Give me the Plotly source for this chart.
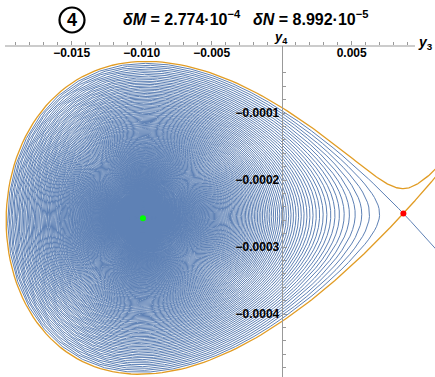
import numpy as np
import plotly.graph_objects as go

# ---- values (axis units y3, y4) ----
CENTER = [-0.00991, -0.000257]      # green fixed point (focus)
SADDLE = [0.00869, -0.000250]       # red fixed point (saddle)
LOOP_HALF_HEIGHT = 0.000232         # half height of the separatrix loop (y4)
LOOP_LEFT_WARP = -0.03              # the loop reaches a little further left than a pure cubic well
DAMPING = 0.0035                    # from the gap between the orange branches at the saddle

X_TICKS = [-0.015, -0.010, -0.005, 0.005]
X_TICK_LABELS = ["\u22120.015", "\u22120.010", "\u22120.005", "0.005"]
Y_TICKS = [-0.0001, -0.0002, -0.0003, -0.0004]
Y_TICK_LABELS = ["\u22120.0001", "\u22120.0002", "\u22120.0003", "\u22120.0004"]
DELTA_M = "2.774\u00b710<sup>\u22124</sup>"
DELTA_N = "8.992\u00b710<sup>\u22125</sup>"
PANEL = "4"

BLUE = "#5E81B5"
ORANGE = "#E19C24"
AXIS = "#999999"

# ---- reconstructed dynamical system (normalised coords q, p) ----
g = DAMPING


def f(q, p):
    return p, -q + q * q - g * p


def integrate(q, p, dt, tmax, keep=3, escape=True):
    qs, ps = [q], [p]
    n = int(tmax / abs(dt))
    for i in range(n):
        k1q, k1p = f(q, p)
        k2q, k2p = f(q + 0.5 * dt * k1q, p + 0.5 * dt * k1p)
        k3q, k3p = f(q + 0.5 * dt * k2q, p + 0.5 * dt * k2p)
        k4q, k4p = f(q + dt * k3q, p + dt * k3p)
        q += dt / 6 * (k1q + 2 * k2q + 2 * k3q + k4q)
        p += dt / 6 * (k1p + 2 * k2p + 2 * k3p + k4p)
        if i % keep == 0:
            qs.append(q)
            ps.append(p)
        if escape and (q > 1.4 or q < -1.0 or abs(p) > 1.2):
            qs.append(q)
            ps.append(p)
            break
    return np.array(qs), np.array(ps)


lam_u = (-g + np.sqrt(g * g + 4)) / 2
lam_s = (-g - np.sqrt(g * g + 4)) / 2
eps = 1e-6

# unstable manifold (blue): inner branch spirals to the focus, outer leaves
bu_in = integrate(1 - eps, -eps * lam_u, 0.05, 2900, keep=3, escape=False)
bu_out = integrate(1 + eps, eps * lam_u, 0.02, 60, keep=1)
# stable manifold (orange): traced backward in time
os_in = integrate(1 - eps, -eps * lam_s, -0.02, 200, keep=2)
os_out = integrate(1 + eps, eps * lam_s, -0.02, 60, keep=1)

s = LOOP_HALF_HEIGHT / np.sqrt(1 / 3)
d3 = SADDLE[0] - CENTER[0]
d4 = SADDLE[1] - CENTER[1]


def to_axes(qp):
    q, p = qp
    qw = q + LOOP_LEFT_WARP * q * (q - 1)
    return CENTER[0] + d3 * qw, CENTER[1] + d4 * q - s * p


bx1, by1 = to_axes(bu_in)
bx2, by2 = to_axes(bu_out)
blue_x = np.concatenate([bx2[::-1], bx1])
blue_y = np.concatenate([by2[::-1], by1])

ox1, oy1 = to_axes(os_in)
ox2, oy2 = to_axes(os_out)
orange_x = np.concatenate([ox1[::-1], ox2])
orange_y = np.concatenate([oy1[::-1], oy2])

# ---- figure ----
W, H = 435, 377
TOP = 46
PX_PER_X = 14000.0
PX_PER_Y = 670000.0
x0_px = 281.7
xmin = -x0_px / PX_PER_X
xmax = (W - x0_px) / PX_PER_X
ymin = -(H - TOP) / PX_PER_Y
ymax = 0.0
plot_h = H - TOP


def px(x):
    return x / W


def py(y):
    return 1 + (TOP - y) / plot_h


fig = go.Figure()
fig.add_trace(go.Scatter(x=blue_x, y=blue_y, mode="lines",
                         line=dict(color=BLUE, width=1), hoverinfo="skip"))
fig.add_trace(go.Scatter(x=orange_x, y=orange_y, mode="lines",
                         line=dict(color=ORANGE, width=1.3), hoverinfo="skip"))
fig.add_trace(go.Scatter(x=[CENTER[0]], y=[CENTER[1]], mode="markers",
                         marker=dict(color="#00FF00", size=6)))
fig.add_trace(go.Scatter(x=[SADDLE[0]], y=[SADDLE[1]], mode="markers",
                         marker=dict(color="#FF0000", size=6)))

minor_x = [v for v in np.round(np.arange(-0.019, 0.0095, 0.001), 4)
           if abs(v) > 1e-9 and v not in X_TICKS]
minor_y = [v for v in np.round(np.arange(-0.00048, -0.00001, 0.00002), 6)
           if v not in Y_TICKS]

tickfont = dict(family="Liberation Sans, Arial, sans-serif", size=12,
                color="black", weight="bold")

fig.update_layout(
    width=W, height=H,
    margin=dict(l=0, r=0, t=TOP, b=0, autoexpand=False),
    paper_bgcolor="white", plot_bgcolor="white",
    showlegend=False,
    xaxis=dict(range=[xmin, xmax], side="top", showgrid=False, zeroline=False,
               automargin=False,
               showline=False, ticks="outside", ticklen=4, tickwidth=1,
               tickcolor=AXIS, tickvals=X_TICKS, ticktext=X_TICK_LABELS,
               ticklabelposition="inside", tickfont=tickfont,
               minor=dict(tickvals=minor_x, ticks="outside", ticklen=3,
                          tickcolor=AXIS, tickwidth=1)),
    yaxis=dict(range=[ymin, ymax], anchor="free", automargin=False,
               position=(0 - xmin) / (xmax - xmin), side="left",
               showgrid=False, zeroline=False, showline=True, linecolor=AXIS,
               linewidth=1, ticks="inside", ticklen=4, tickwidth=1,
               tickcolor=AXIS, tickvals=Y_TICKS, ticktext=Y_TICK_LABELS,
               tickfont=tickfont,
               minor=dict(tickvals=minor_y, ticks="inside", ticklen=3,
                          tickcolor=AXIS, tickwidth=1)),
)

# x axis line (ends before the axis label, as in the reference)
fig.add_shape(type="line", xref="paper", yref="paper", x0=px(5), x1=px(415),
              y0=1, y1=1, line=dict(color=AXIS, width=1))
# circled panel number
fig.add_shape(type="circle", xref="paper", yref="paper",
              x0=px(72 - 12.5), x1=px(72 + 12.5), y0=py(20 + 12.5), y1=py(20 - 12.5),
              line=dict(color="black", width=2.2))

font_b = dict(family="Liberation Sans, Arial, sans-serif", color="black", weight="bold")
fig.add_annotation(x=px(72), y=py(20), xref="paper", yref="paper", text=PANEL,
                   showarrow=False, font=dict(font_b, size=18),
                   xanchor="center", yanchor="middle")
fig.add_annotation(x=px(121), y=py(18), xref="paper", yref="paper",
                   text="<i>\u03b4M</i> = " + DELTA_M,
                   showarrow=False, font=dict(font_b, size=16),
                   xanchor="left", yanchor="middle")
fig.add_annotation(x=px(371), y=py(18), xref="paper", yref="paper",
                   text="<i>\u03b4N</i> = " + DELTA_N,
                   showarrow=False, font=dict(font_b, size=16),
                   xanchor="right", yanchor="middle")
fig.add_annotation(x=px(281), y=py(37.5), xref="paper", yref="paper",
                   text="<i>y</i><sub>4</sub>", showarrow=False,
                   font=dict(font_b, size=13), xanchor="center", yanchor="middle")
fig.add_annotation(x=px(425), y=py(43), xref="paper", yref="paper",
                   text="<i>y</i><sub>3</sub>", showarrow=False,
                   font=dict(font_b, size=14), xanchor="center", yanchor="middle")

fig.write_html("out.html", config={"displayModeBar": False},
               post_script="document.body.style.margin='0';document.body.style.padding='0';")
